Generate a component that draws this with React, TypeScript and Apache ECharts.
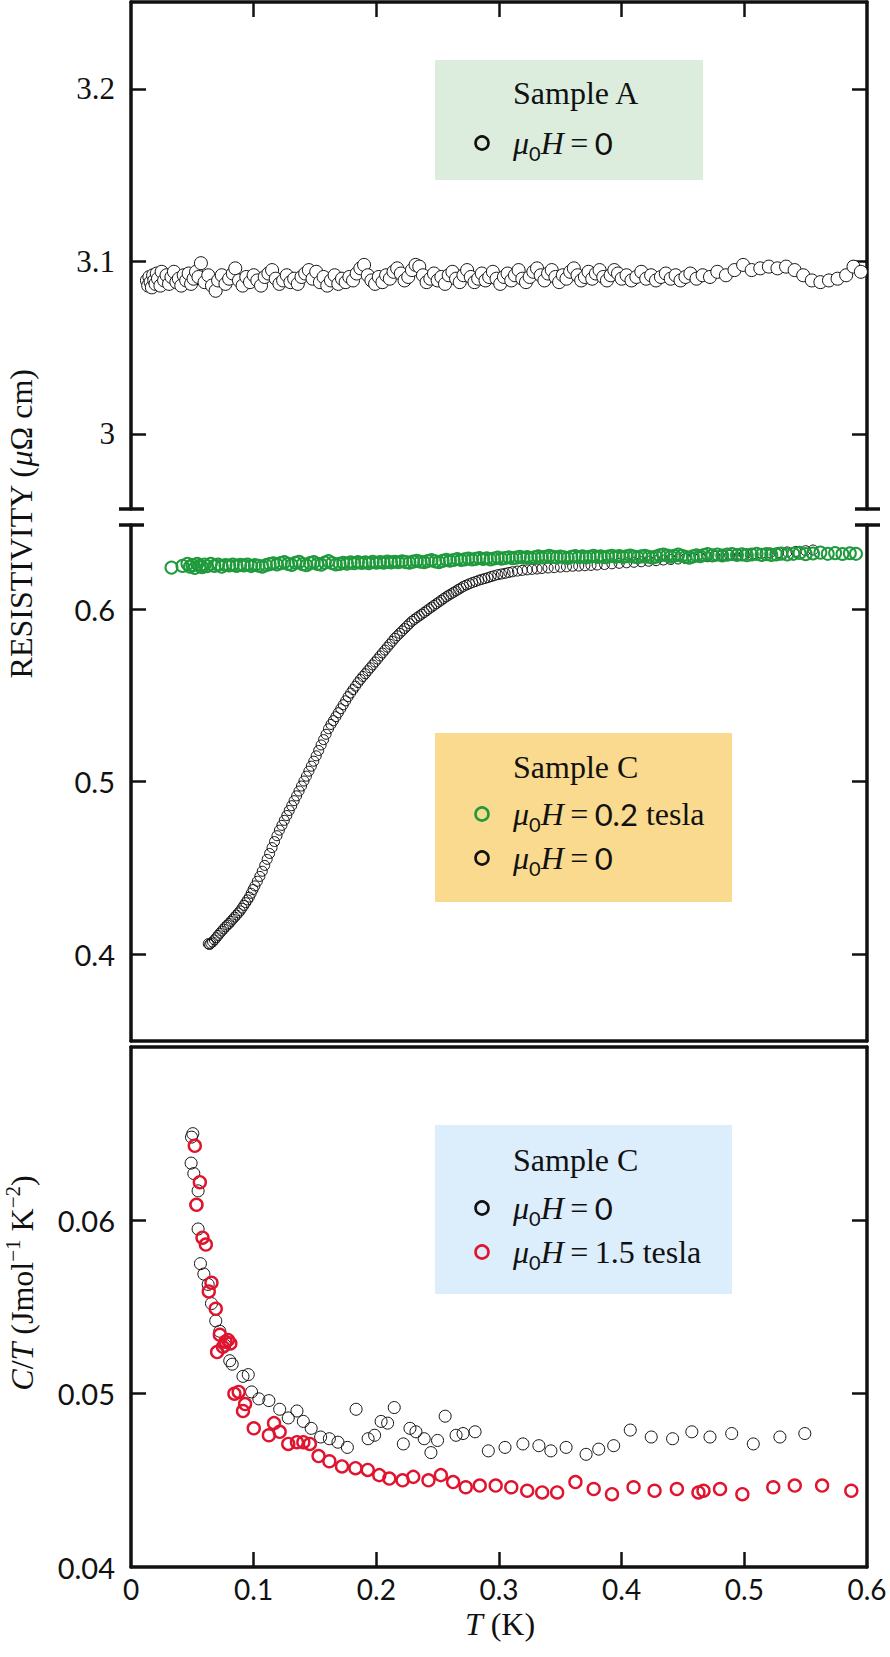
import React, { useEffect, useRef } from "react";
import * as echarts from "echarts";

const SERIF = "'Liberation Serif', 'DejaVu Serif', serif";
const SANS = "Lato, 'Open Sans', sans-serif";
const INK = "#111";
const GREEN = "#1f9a3c";
const RED = "#e0142e";

// tick labels
const tempTicks = [0, 0.1, 0.2, 0.3, 0.4, 0.5, 0.6];
const innerTempTicks = [0.1, 0.2, 0.3, 0.4, 0.5];
const rhoHighTicks = [3, 3.1, 3.2];
const rhoLowTicks = [0.4, 0.5, 0.6];
const ctTicks = [0.04, 0.05, 0.06];

// Sample A, mu0H = 0: [T (K), resistivity]
const sampleA: number[][] = [
  [0.013, 3.089], [0.014, 3.086], [0.015, 3.091], [0.016, 3.088], [0.017, 3.085], [0.018, 3.092],
  [0.019, 3.089], [0.020, 3.087], [0.021, 3.093], [0.022, 3.090], [0.024, 3.086], [0.025, 3.094],
  [0.027, 3.089], [0.029, 3.092], [0.031, 3.087], [0.033, 3.091], [0.035, 3.094], [0.037, 3.088],
  [0.039, 3.090], [0.041, 3.086], [0.043, 3.092], [0.045, 3.089], [0.047, 3.093], [0.049, 3.087],
  [0.051, 3.090], [0.053, 3.094], [0.055, 3.091], [0.057, 3.099], [0.060, 3.088], [0.063, 3.092],
  [0.066, 3.086], [0.069, 3.083], [0.071, 3.089], [0.074, 3.092], [0.077, 3.087], [0.080, 3.090],
  [0.083, 3.093], [0.085, 3.096], [0.088, 3.089], [0.091, 3.086], [0.094, 3.091], [0.097, 3.088],
  [0.100, 3.092], [0.103, 3.089], [0.106, 3.086], [0.109, 3.091], [0.112, 3.093], [0.115, 3.095],
  [0.118, 3.090], [0.121, 3.087], [0.124, 3.089], [0.127, 3.092], [0.130, 3.088], [0.133, 3.090],
  [0.136, 3.087], [0.139, 3.091], [0.142, 3.093], [0.145, 3.095], [0.148, 3.090], [0.151, 3.094],
  [0.154, 3.088], [0.157, 3.091], [0.160, 3.086], [0.163, 3.089], [0.166, 3.092], [0.169, 3.087],
  [0.172, 3.090], [0.175, 3.088], [0.178, 3.091], [0.181, 3.089], [0.184, 3.093], [0.187, 3.096],
  [0.190, 3.098], [0.193, 3.092], [0.196, 3.089], [0.199, 3.087], [0.202, 3.091], [0.205, 3.088],
  [0.208, 3.092], [0.211, 3.090], [0.214, 3.094], [0.217, 3.096], [0.220, 3.093], [0.223, 3.089],
  [0.226, 3.091], [0.229, 3.095], [0.232, 3.098], [0.235, 3.097], [0.238, 3.092], [0.241, 3.088],
  [0.244, 3.090], [0.247, 3.093], [0.250, 3.089], [0.253, 3.091], [0.256, 3.087], [0.259, 3.092],
  [0.262, 3.094], [0.265, 3.090], [0.268, 3.088], [0.271, 3.092], [0.274, 3.095], [0.277, 3.091],
  [0.280, 3.088], [0.283, 3.090], [0.286, 3.093], [0.289, 3.089], [0.292, 3.091], [0.295, 3.094],
  [0.298, 3.090], [0.301, 3.087], [0.304, 3.091], [0.307, 3.093], [0.310, 3.089], [0.313, 3.092],
  [0.316, 3.095], [0.319, 3.090], [0.322, 3.088], [0.325, 3.091], [0.328, 3.094], [0.331, 3.096],
  [0.334, 3.092], [0.337, 3.089], [0.340, 3.093], [0.343, 3.095], [0.346, 3.091], [0.349, 3.088],
  [0.352, 3.092], [0.355, 3.090], [0.358, 3.094], [0.361, 3.096], [0.364, 3.092], [0.367, 3.089],
  [0.370, 3.091], [0.373, 3.094], [0.376, 3.090], [0.379, 3.093], [0.382, 3.095], [0.385, 3.091],
  [0.388, 3.089], [0.391, 3.092], [0.394, 3.095], [0.397, 3.093], [0.400, 3.090], [0.404, 3.092],
  [0.408, 3.089], [0.412, 3.091], [0.416, 3.094], [0.420, 3.090], [0.424, 3.092], [0.428, 3.089],
  [0.432, 3.091], [0.436, 3.093], [0.440, 3.090], [0.444, 3.092], [0.448, 3.089], [0.452, 3.091],
  [0.456, 3.093], [0.461, 3.090], [0.466, 3.092], [0.472, 3.091], [0.478, 3.094], [0.485, 3.092],
  [0.492, 3.095], [0.499, 3.098], [0.506, 3.095], [0.513, 3.096], [0.520, 3.097], [0.527, 3.096],
  [0.534, 3.097], [0.541, 3.095], [0.548, 3.092], [0.555, 3.089], [0.562, 3.088], [0.569, 3.089],
  [0.576, 3.090], [0.583, 3.092], [0.589, 3.097], [0.595, 3.094],
];

// Sample C, mu0H = 0.2 tesla
const sampleC02T: number[][] = [
  [0.033, 0.6240], [0.042, 0.6250], [0.046, 0.6262], [0.048, 0.6245], [0.050, 0.6255], [0.052, 0.6238],
  [0.054, 0.6262], [0.056, 0.6250], [0.058, 0.6243], [0.060, 0.6258], [0.062, 0.6248], [0.065, 0.6262],
  [0.068, 0.6250], [0.071, 0.6257], [0.074, 0.6246], [0.077, 0.6255], [0.080, 0.6252], [0.083, 0.6258],
  [0.086, 0.6250], [0.089, 0.6256], [0.092, 0.6253], [0.095, 0.6258], [0.098, 0.6249], [0.101, 0.6255],
  [0.104, 0.6251], [0.107, 0.6246], [0.110, 0.6254], [0.113, 0.6260], [0.116, 0.6265], [0.119, 0.6258],
  [0.122, 0.6266], [0.125, 0.6272], [0.128, 0.6262], [0.131, 0.6255], [0.134, 0.6268], [0.137, 0.6273],
  [0.140, 0.6260], [0.143, 0.6254], [0.146, 0.6266], [0.149, 0.6272], [0.152, 0.6262], [0.155, 0.6257],
  [0.158, 0.6269], [0.161, 0.6278], [0.164, 0.6266], [0.167, 0.6258], [0.170, 0.6262], [0.173, 0.6268],
  [0.176, 0.6263], [0.179, 0.6270], [0.182, 0.6265], [0.185, 0.6272], [0.188, 0.6267], [0.191, 0.6270],
  [0.194, 0.6266], [0.197, 0.6273], [0.200, 0.6268], [0.203, 0.6272], [0.206, 0.6269], [0.209, 0.6275],
  [0.212, 0.6270], [0.215, 0.6274], [0.218, 0.6271], [0.221, 0.6277], [0.224, 0.6272], [0.227, 0.6269],
  [0.230, 0.6275], [0.233, 0.6280], [0.236, 0.6274], [0.239, 0.6271], [0.242, 0.6278], [0.245, 0.6283],
  [0.248, 0.6276], [0.251, 0.6272], [0.254, 0.6279], [0.257, 0.6285], [0.260, 0.6280], [0.263, 0.6284],
  [0.266, 0.6290], [0.269, 0.6284], [0.272, 0.6288], [0.275, 0.6293], [0.278, 0.6287], [0.281, 0.6291],
  [0.284, 0.6296], [0.287, 0.6290], [0.290, 0.6294], [0.293, 0.6288], [0.296, 0.6293], [0.299, 0.6298],
  [0.302, 0.6292], [0.305, 0.6296], [0.308, 0.6300], [0.311, 0.6294], [0.314, 0.6298], [0.317, 0.6303],
  [0.320, 0.6297], [0.323, 0.6301], [0.326, 0.6296], [0.329, 0.6300], [0.332, 0.6305], [0.335, 0.6299],
  [0.338, 0.6303], [0.341, 0.6308], [0.344, 0.6302], [0.347, 0.6299], [0.350, 0.6304], [0.353, 0.6300],
  [0.356, 0.6296], [0.359, 0.6302], [0.362, 0.6307], [0.365, 0.6301], [0.368, 0.6305], [0.371, 0.6299],
  [0.374, 0.6303], [0.377, 0.6308], [0.380, 0.6302], [0.383, 0.6306], [0.386, 0.6300], [0.389, 0.6304],
  [0.392, 0.6309], [0.395, 0.6303], [0.398, 0.6307], [0.401, 0.6302], [0.404, 0.6306], [0.407, 0.6310],
  [0.410, 0.6304], [0.413, 0.6300], [0.416, 0.6305], [0.419, 0.6309], [0.422, 0.6303], [0.425, 0.6298],
  [0.428, 0.6304], [0.431, 0.6311], [0.434, 0.6316], [0.437, 0.6310], [0.440, 0.6304], [0.443, 0.6309],
  [0.446, 0.6315], [0.449, 0.6308], [0.452, 0.6303], [0.455, 0.6297], [0.458, 0.6305], [0.461, 0.6311],
  [0.464, 0.6306], [0.467, 0.6313], [0.470, 0.6318], [0.474, 0.6311], [0.478, 0.6316], [0.482, 0.6310],
  [0.486, 0.6315], [0.490, 0.6319], [0.494, 0.6313], [0.498, 0.6317], [0.502, 0.6312], [0.506, 0.6316],
  [0.510, 0.6320], [0.514, 0.6314], [0.518, 0.6318], [0.522, 0.6313], [0.526, 0.6317], [0.530, 0.6321],
  [0.535, 0.6316], [0.540, 0.6320], [0.545, 0.6325], [0.550, 0.6318], [0.556, 0.6322], [0.562, 0.6327],
  [0.568, 0.6320], [0.574, 0.6324], [0.580, 0.6319], [0.586, 0.6323], [0.591, 0.6320],
];

// Sample C, mu0H = 0 (superconducting drop)
const sampleC0T: number[][] = [
  [0.0630, 0.4060], [0.0640, 0.4055], [0.0650, 0.4062], [0.0665, 0.4070], [0.0680, 0.4082], [0.0695, 0.4095],
  [0.0710, 0.4108], [0.0725, 0.4121], [0.0740, 0.4133], [0.0755, 0.4145], [0.0770, 0.4157], [0.0785, 0.4168],
  [0.0800, 0.4177], [0.0815, 0.4190], [0.0830, 0.4202], [0.0845, 0.4214], [0.0860, 0.4226], [0.0875, 0.4238],
  [0.0890, 0.4250], [0.0905, 0.4266], [0.0920, 0.4282], [0.0935, 0.4298], [0.0950, 0.4314], [0.0965, 0.4330],
  [0.0980, 0.4352], [0.0995, 0.4374], [0.1010, 0.4395], [0.1030, 0.4422], [0.1050, 0.4450], [0.1070, 0.4480],
  [0.1090, 0.4514], [0.1110, 0.4549], [0.1130, 0.4583], [0.1150, 0.4617], [0.1170, 0.4652], [0.1190, 0.4686],
  [0.1210, 0.4718], [0.1230, 0.4746], [0.1250, 0.4775], [0.1270, 0.4803], [0.1290, 0.4832], [0.1310, 0.4860],
  [0.1330, 0.4889], [0.1350, 0.4917], [0.1370, 0.4945], [0.1390, 0.4974], [0.1410, 0.5003], [0.1430, 0.5031],
  [0.1450, 0.5060], [0.1470, 0.5089], [0.1490, 0.5118], [0.1510, 0.5149], [0.1530, 0.5180], [0.1550, 0.5212],
  [0.1570, 0.5243], [0.1590, 0.5274], [0.1610, 0.5306], [0.1630, 0.5331], [0.1650, 0.5353], [0.1670, 0.5376],
  [0.1690, 0.5399], [0.1710, 0.5422], [0.1730, 0.5445], [0.1750, 0.5468], [0.1770, 0.5492], [0.1790, 0.5513],
  [0.1810, 0.5533], [0.1830, 0.5553], [0.1850, 0.5573], [0.1870, 0.5592], [0.1890, 0.5609], [0.1910, 0.5625],
  [0.1930, 0.5642], [0.1950, 0.5659], [0.1970, 0.5676], [0.1990, 0.5693], [0.2010, 0.5710], [0.2030, 0.5728],
  [0.2050, 0.5745], [0.2070, 0.5762], [0.2090, 0.5779], [0.2110, 0.5796], [0.2130, 0.5813], [0.2150, 0.5830],
  [0.2170, 0.5845], [0.2190, 0.5859], [0.2210, 0.5873], [0.2230, 0.5887], [0.2250, 0.5901], [0.2270, 0.5915],
  [0.2290, 0.5929], [0.2310, 0.5940], [0.2330, 0.5950], [0.2350, 0.5960], [0.2370, 0.5970], [0.2390, 0.5980],
  [0.2410, 0.5990], [0.2430, 0.6001], [0.2450, 0.6011], [0.2470, 0.6021], [0.2490, 0.6031], [0.2510, 0.6041],
  [0.2530, 0.6051], [0.2550, 0.6061], [0.2570, 0.6071], [0.2590, 0.6080], [0.2610, 0.6088], [0.2630, 0.6097],
  [0.2650, 0.6105], [0.2670, 0.6114], [0.2690, 0.6122], [0.2710, 0.6131], [0.2735, 0.6139], [0.2760, 0.6147],
  [0.2785, 0.6154], [0.2810, 0.6160], [0.2835, 0.6167], [0.2860, 0.6172], [0.2885, 0.6177], [0.2910, 0.6182],
  [0.2935, 0.6188], [0.2960, 0.6193], [0.2990, 0.6199], [0.3020, 0.6203], [0.3050, 0.6207], [0.3080, 0.6212],
  [0.3110, 0.6216], [0.3150, 0.6220], [0.3190, 0.6224], [0.3230, 0.6227], [0.3270, 0.6230], [0.3310, 0.6232],
  [0.3350, 0.6235], [0.3400, 0.6238], [0.3450, 0.6240], [0.3500, 0.6243], [0.3550, 0.6245], [0.3600, 0.6248],
  [0.3650, 0.6249], [0.3700, 0.6251], [0.3750, 0.6253], [0.3800, 0.6255], [0.3860, 0.6258], [0.3920, 0.6262],
  [0.3980, 0.6265], [0.4040, 0.6268], [0.4100, 0.6271], [0.4160, 0.6274], [0.4220, 0.6277], [0.4280, 0.6280],
  [0.4340, 0.6284], [0.4400, 0.6287], [0.4460, 0.6290], [0.4520, 0.6293], [0.4580, 0.6297], [0.4640, 0.6300],
  [0.4700, 0.6303], [0.4760, 0.6306], [0.4820, 0.6309], [0.4880, 0.6311], [0.4940, 0.6314], [0.5000, 0.6316],
  [0.5070, 0.6319], [0.5140, 0.6322], [0.5210, 0.6325], [0.5280, 0.6328], [0.5350, 0.6331], [0.5420, 0.6334],
  [0.5500, 0.6338], [0.5560, 0.6342],
];

// Sample C specific heat C/T, mu0H = 0
const heatC0T: number[][] = [
  [0.0493, 0.0648], [0.0504, 0.0650], [0.0490, 0.0633], [0.0512, 0.0627], [0.0547, 0.0617], [0.0529, 0.0609],
  [0.0547, 0.0595], [0.0566, 0.0575], [0.0594, 0.0569], [0.0629, 0.0563], [0.0656, 0.0552], [0.0691, 0.0542],
  [0.0724, 0.0536], [0.0765, 0.0528], [0.0805, 0.0519], [0.0825, 0.0517], [0.0913, 0.0510], [0.0956, 0.0511],
  [0.0983, 0.0501], [0.1042, 0.0497], [0.1124, 0.0496], [0.1212, 0.0491], [0.1282, 0.0486], [0.1353, 0.0490],
  [0.1405, 0.0484], [0.1469, 0.0480], [0.1546, 0.0475], [0.1617, 0.0474], [0.1687, 0.0472], [0.1764, 0.0469],
  [0.1835, 0.0491], [0.1933, 0.0474], [0.1986, 0.0476], [0.2039, 0.0484], [0.2092, 0.0483], [0.2146, 0.0492],
  [0.2220, 0.0471], [0.2274, 0.0480], [0.2323, 0.0478], [0.2390, 0.0474], [0.2445, 0.0466], [0.2499, 0.0473],
  [0.2561, 0.0487], [0.2650, 0.0476], [0.2707, 0.0477], [0.2805, 0.0478], [0.2913, 0.0467], [0.3049, 0.0469],
  [0.3195, 0.0471], [0.3325, 0.0470], [0.3423, 0.0467], [0.3547, 0.0469], [0.3710, 0.0465], [0.3813, 0.0468],
  [0.3935, 0.0470], [0.4070, 0.0479], [0.4241, 0.0475], [0.4415, 0.0474], [0.4572, 0.0478], [0.4720, 0.0475],
  [0.4897, 0.0477], [0.5073, 0.0471], [0.5290, 0.0475], [0.5493, 0.0477],
];

// Sample C specific heat C/T, mu0H = 1.5 tesla
const heatC15T: number[][] = [
  [0.0520, 0.0643], [0.0561, 0.0622], [0.0534, 0.0609], [0.0583, 0.0590], [0.0610, 0.0586], [0.0656, 0.0564],
  [0.0634, 0.0559], [0.0691, 0.0549], [0.0724, 0.0534], [0.0702, 0.0524], [0.0750, 0.0527], [0.0770, 0.0530],
  [0.0790, 0.0531], [0.0810, 0.0529], [0.0843, 0.0500], [0.0878, 0.0501], [0.0913, 0.0490], [0.0930, 0.0494],
  [0.1001, 0.0480], [0.1124, 0.0476], [0.1166, 0.0483], [0.1212, 0.0478], [0.1282, 0.0471], [0.1353, 0.0472],
  [0.1405, 0.0472], [0.1458, 0.0471], [0.1529, 0.0464], [0.1617, 0.0461], [0.1720, 0.0458], [0.1830, 0.0457],
  [0.1930, 0.0456], [0.2024, 0.0453], [0.2106, 0.0451], [0.2214, 0.0450], [0.2301, 0.0452], [0.2425, 0.0450],
  [0.2526, 0.0453], [0.2626, 0.0449], [0.2729, 0.0446], [0.2843, 0.0447], [0.2973, 0.0447], [0.3100, 0.0446],
  [0.3230, 0.0444], [0.3352, 0.0443], [0.3474, 0.0443], [0.3623, 0.0449], [0.3772, 0.0445], [0.3921, 0.0442],
  [0.4097, 0.0446], [0.4268, 0.0444], [0.4450, 0.0445], [0.4626, 0.0443], [0.4667, 0.0444], [0.4802, 0.0445],
  [0.4984, 0.0442], [0.5236, 0.0446], [0.5411, 0.0447], [0.5634, 0.0447], [0.5872, 0.0444],
];

const axisLine = { show: true, onZero: false, lineStyle: { color: INK, width: 3.5 } };
const inTick = (values: number[]) => ({
  show: true, inside: true, length: 15, customValues: values, lineStyle: { color: INK, width: 2.5 },
});

function tempAxis(gridIndex: number, position: "top" | "bottom", ticks: boolean, labels: boolean) {
  return {
    type: "value" as const, gridIndex, position, min: 0, max: 0.6,
    axisLine,
    axisTick: ticks ? inTick(innerTempTicks) : { show: false },
    axisLabel: labels
      ? { show: true, customValues: tempTicks, margin: 8, fontFamily: SANS, fontSize: 28, color: INK }
      : { show: false },
    splitLine: { show: false },
  };
}

function valAxis(gridIndex: number, position: "left" | "right", min: number, max: number,
  tickVals: number[], labelVals: number[] | null, font: string, size: number) {
  return {
    type: "value" as const, gridIndex, position, min, max,
    axisLine,
    axisTick: inTick(tickVals),
    axisLabel: labelVals
      ? { show: true, customValues: labelVals, margin: 16, fontFamily: font, fontSize: size, color: INK }
      : { show: false },
    splitLine: { show: false },
  };
}

function ring(name: string, data: number[][], xi: number, yi: number, size: number,
  stroke: string, width: number, fill: string) {
  return {
    name, type: "scatter" as const, xAxisIndex: xi, yAxisIndex: yi, data,
    symbol: "circle", symbolSize: size, silent: true,
    itemStyle: { color: fill, borderColor: stroke, borderWidth: width, opacity: 1 },
  };
}

const serif = (extra: object = {}) => ({ fontFamily: SERIF, fontSize: 32, fill: INK, lineHeight: 40, ...extra });
const richStyles = {
  n: serif(),
  i: serif({ fontStyle: "italic" }),
  s: { fontFamily: SANS, fontSize: 31, fill: INK, lineHeight: 40 },
  sub: { fontFamily: SANS, fontSize: 20, fill: INK, lineHeight: 8, verticalAlign: "bottom" },
  sup: { fontFamily: SERIF, fontSize: 21, fill: INK, lineHeight: 16, verticalAlign: "top" },
};

function label(x: number, y: number, text: string, rotation = 0, align = "left") {
  return {
    type: "text", x, y, rotation, z: 10,
    style: { text, rich: richStyles, align, verticalAlign: "middle", fill: INK },
  };
}

function marker(x: number, y: number, color: string) {
  return {
    type: "circle", z: 10, shape: { cx: x, cy: y, r: 6.5 },
    style: { fill: "none", stroke: color, lineWidth: 2.6 },
  };
}

function breakMark(x: number, y: number) {
  return { type: "line", z: 10, shape: { x1: x - 12, y1: y, x2: x + 13, y2: y }, style: { stroke: INK, lineWidth: 3.5 } };
}

const EQ = "{n|\u2009=\u2009}";

export default function App() {
  const ref = useRef<HTMLDivElement>(null);

  useEffect(() => {
    if (!ref.current) return;
    const chart = echarts.init(ref.current, null, { renderer: "svg" });

    chart.setOption({
      animation: false,
      grid: [
        { left: 131, right: 23, top: 2, height: 507 },
        { left: 131, right: 23, top: 525, height: 516 },
        { left: 131, right: 23, top: 1047, height: 520 },
      ],
      xAxis: [
        tempAxis(0, "top", true, false),
        tempAxis(1, "bottom", false, false),
        tempAxis(2, "top", false, false),
        tempAxis(2, "bottom", true, true),
      ],
      yAxis: [
        valAxis(0, "left", 2.9565, 3.2504, rhoHighTicks, rhoHighTicks, SERIF, 31),
        valAxis(0, "right", 2.9565, 3.2504, rhoHighTicks, null, SERIF, 31),
        valAxis(1, "left", 0.3496, 0.6487, rhoLowTicks, rhoLowTicks, SANS, 29),
        valAxis(1, "right", 0.3496, 0.6487, rhoLowTicks, null, SANS, 29),
        valAxis(2, "left", 0.04, 0.07, [0.05, 0.06], ctTicks, SANS, 29),
        valAxis(2, "right", 0.04, 0.07, [0.05, 0.06], null, SANS, 29),
      ],
      series: [
        ring("Sample A, μ0H=0", sampleA, 0, 0, 13, INK, 1, "#fff"),
        ring("Sample C, μ0H=0", sampleC0T, 1, 2, 10, INK, 1, "rgba(0,0,0,0)"),
        ring("Sample C, μ0H=0.2 tesla", sampleC02T, 1, 2, 12, GREEN, 2, "rgba(0,0,0,0)"),
        ring("C/T, μ0H=0", heatC0T, 3, 4, 12, INK, 1, "rgba(0,0,0,0)"),
        ring("C/T, μ0H=1.5 tesla", heatC15T, 3, 4, 12, RED, 2.4, "rgba(0,0,0,0)"),
      ],
      graphic: [
        breakMark(131, 509), breakMark(131, 525), breakMark(867, 509), breakMark(867, 525),

        // legend boxes
        { type: "rect", z: 1, shape: { x: 435, y: 60, width: 268, height: 120 }, style: { fill: "#dcedde" } },
        { type: "rect", z: 1, shape: { x: 435, y: 733, width: 297, height: 169 }, style: { fill: "#f9da8e" } },
        { type: "rect", z: 1, shape: { x: 435, y: 1125, width: 297, height: 169 }, style: { fill: "#dcedfb" } },

        label(513, 93, "{n|Sample A}"),
        marker(482, 143, INK),
        label(513, 143, "{i|μ}{sub|0}{i|H}" + EQ + "{s|0}"),

        label(513, 767, "{n|Sample C}"),
        marker(482, 814, GREEN),
        label(513, 814, "{i|μ}{sub|0}{i|H}" + EQ + "{s|0.2}{n| tesla}"),
        marker(482, 858, INK),
        label(513, 858, "{i|μ}{sub|0}{i|H}" + EQ + "{s|0}"),

        label(513, 1160, "{n|Sample C}"),
        marker(482, 1208, INK),
        label(513, 1208, "{i|μ}{sub|0}{i|H}" + EQ + "{s|0}"),
        marker(482, 1252, RED),
        label(513, 1252, "{i|μ}{sub|0}{i|H}" + EQ + "{n|1.5 tesla}"),

        // axis titles
        label(21, 524, "{n|RESISTIVITY (}{i|μ}{n|Ω cm)}", Math.PI / 2, "center"),
        label(22, 1283, "{i|C}{n|/}{i|T}{n| (Jmol}{sup|−1}{n| K}{sup|−2}{n|)}", Math.PI / 2, "center"),
        label(500, 1624, "{i|T}{n| (K)}", 0, "center"),
      ],
    });

    return () => chart.dispose();
  }, []);

  return (
    <div
      ref={ref}
      style={{ position: "absolute", left: 0, top: 0, width: 890, height: 1657, background: "#fff" }}
    />
  );
}
